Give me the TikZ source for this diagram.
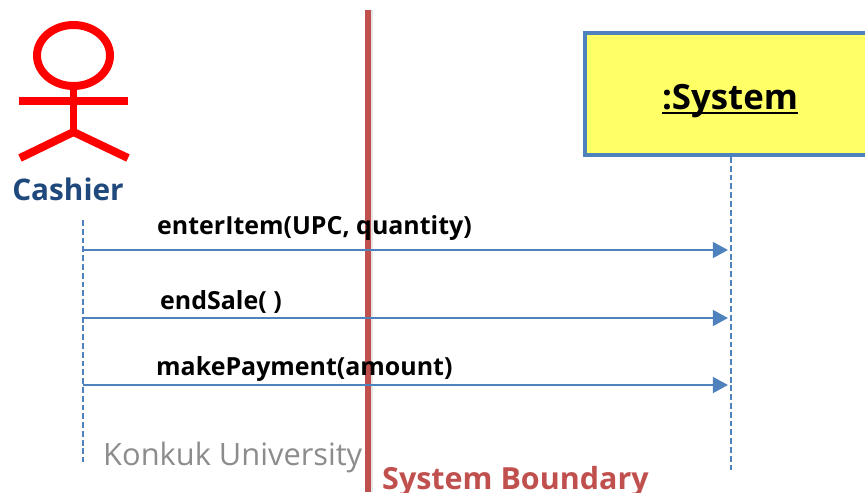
\documentclass[tikz,border=0pt]{standalone}
\usepackage{xcolor}
\usepackage{fontspec}
\usetikzlibrary{arrows.meta}
\setmainfont{Open Sans}
\definecolor{lineblue}{HTML}{4F81BD}
\definecolor{boundaryred}{HTML}{C0504D}
\definecolor{cashierblue}{HTML}{1F497D}
\definecolor{boxyellow}{HTML}{FFFF66}
\tikzset{
	actorline/.style={draw=red, line width=6.8pt},
	lifeline/.style={draw=lineblue, line width=2.1pt, dash pattern=on 5pt off 2.5pt},
	message/.style={draw=lineblue, line width=2.3pt, -{Triangle[length=13pt,width=13.5pt]}},
	msglabel/.style={anchor=base west, inner sep=0pt, font=\fontsize{21.3}{24}\selectfont\bfseries},
	sysbox/.style={draw=lineblue, line width=3.4pt, fill=boxyellow, minimum width=8.76cm, minimum height=3.66cm, inner sep=0pt}
}
\begin{document}
\begin{tikzpicture}[x=0.03cm, y=-0.03cm]
		\useasboundingbox (0, 0) rectangle (865, 492);
		\coordinate (HeadC) at (73.5, 55.5);
		\coordinate (Neck) at (73.5, 86);
		\coordinate (Hip) at (73.5, 132);
		\coordinate (ArmL) at (19, 101);
		\coordinate (ArmR) at (128, 101);
		\coordinate (LegL) at (20, 158);
		\coordinate (LegR) at (128, 158);
		\coordinate (CashierTop) at (83, 220);
		\coordinate (CashierEnd) at (83, 462);
		\coordinate (SystemEnd) at (731, 473);
		\coordinate (BoundaryTop) at (368, 10);
		\coordinate (BoundaryEnd) at (368, 492);
		\coordinate (ShadowTop) at (369.5, 10);
		\coordinate (ShadowEnd) at (369.5, 492);
		\coordinate (EnterS) at (83, 250);
		\coordinate (EnterT) at (728, 250);
		\coordinate (EndS) at (83, 318);
		\coordinate (EndT) at (728, 318);
		\coordinate (PayS) at (83, 385);
		\coordinate (PayT) at (728, 385);

		\node[sysbox] (Sys) at (731, 94) {};
		\node[anchor=base, inner sep=0pt, font=\fontsize{29.7}{32}\selectfont\bfseries] (SysLabel) at (730, 109) {\vtop{\hbox{:System}\kern-4.3pt\hrule height 1.7pt}};

		\draw[actorline] (HeadC) ellipse (36.5 and 30.5);
		\draw[actorline] (Neck) -- (Hip);
		\draw[actorline] (ArmL) -- (ArmR);
		\draw[actorline] (LegL) -- (Hip) -- (LegR);
		\node[anchor=base, inner sep=0pt, text=cashierblue, font=\fontsize{25.4}{28}\selectfont\bfseries] (Cashier) at (68, 200) {Cashier};

		\draw[black!10, line width=6pt] (ShadowTop) -- (ShadowEnd);
		\draw[boundaryred, line width=5pt] (BoundaryTop) -- (BoundaryEnd);

		\node[msglabel] (EnterLabel) at (157, 234) {enterItem(UPC, quantity)};
		\node[msglabel] (EndLabel) at (160, 309) {endSale( )};
		\node[msglabel] (PayLabel) at (156, 375) {makePayment(amount)};

		\foreach \s/\t in {CashierTop/CashierEnd, Sys.south/SystemEnd} {
			\draw[lifeline] (\s) -- (\t);
		}
		\foreach \s/\t in {EnterS/EnterT, EndS/EndT, PayS/PayT} {
			\draw[message] (\s) -- (\t);
		}

		\node[anchor=base west, inner sep=0pt, text=black!45, font=\fontsize{26.3}{28}\selectfont] (Konkuk) at (103, 465) {Konkuk University};
		\node[anchor=base west, inner sep=0pt, text=boundaryred, font=\fontsize{26}{28}\selectfont\bfseries] (BoundaryLabel) at (382, 489) {System Boundary};
	\end{tikzpicture}
\end{document}
